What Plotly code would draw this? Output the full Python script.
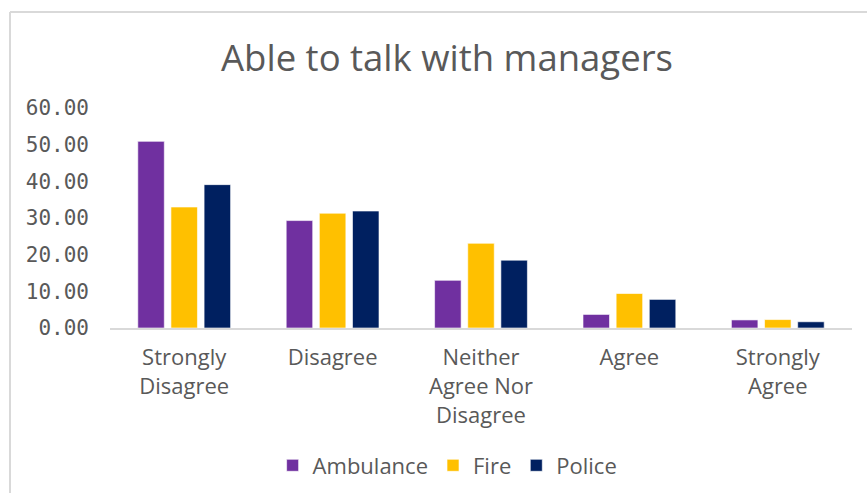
import plotly.graph_objects as go

# Survey responses (percent of respondents)
categories = ["Strongly<br>Disagree", "Disagree", "Neither<br>Agree Nor<br>Disagree", "Agree", "Strongly<br>Agree"]
ambulance = [50.9, 29.3, 13.0, 3.7, 2.2]
fire = [33.0, 31.3, 23.1, 9.4, 2.3]
police = [39.1, 31.9, 18.5, 7.8, 1.7]

series = [
    ("Ambulance", ambulance, "#7030A0"),
    ("Fire", fire, "#FFC000"),
    ("Police", police, "#002060"),
]

W, H = 867, 493
ML, MR, MT, MB = 110, 15, 108, 165
pw = W - ML - MR
ph = H - MT - MB

TEXT = "#595959"
FONT = "Open Sans"

fig = go.Figure()
for name, vals, color in series:
    fig.add_trace(go.Bar(
        x=categories, y=vals, name=name,
        marker=dict(color=color, line=dict(color="rgba(255,255,255,0.6)", width=1)),
    ))

# Outer chart frame (top and left edges)
fx = (10 - ML) / pw
fy = (H - MB - 12) / ph
fig.add_shape(type="line", xref="paper", yref="paper", x0=fx, x1=1.2, y0=fy, y1=fy,
              line=dict(color="#D9D9D9", width=2))
fig.add_shape(type="line", xref="paper", yref="paper", x0=fx, x1=fx, y0=fy, y1=-1.0,
              line=dict(color="#D9D9D9", width=2))

fig.update_layout(
    width=W, height=H,
    margin=dict(l=ML, r=MR, t=MT, b=MB, autoexpand=False),
    paper_bgcolor="white", plot_bgcolor="white",
    font=dict(family=FONT, color=TEXT, size=22),
    title=dict(text="Able to talk with managers", xref="container", x=447 / W,
               xanchor="center", yref="container", y=1 - 58 / H, yanchor="middle",
               font=dict(size=36.5, color=TEXT, family=FONT)),
    barmode="group", bargap=0.33, bargroupgap=0.2,
    showlegend=True,
    legend=dict(orientation="h", x=0.455, xanchor="center", y=-0.625, yanchor="middle",
                font=dict(size=22, color=TEXT), itemwidth=30, traceorder="normal"),
    xaxis=dict(showline=True, linecolor="#D9D9D9", linewidth=2, showgrid=False,
               ticks="", ticklabelstandoff=9, tickfont=dict(size=22, color=TEXT)),
    yaxis=dict(range=[0, 60], dtick=10, tickformat=".2f", showgrid=False, zeroline=False,
               showline=False, ticklabelstandoff=20,
               tickfont=dict(size=21, color=TEXT, family="DejaVu Sans Mono")),
)

fig.write_html("out.html")
